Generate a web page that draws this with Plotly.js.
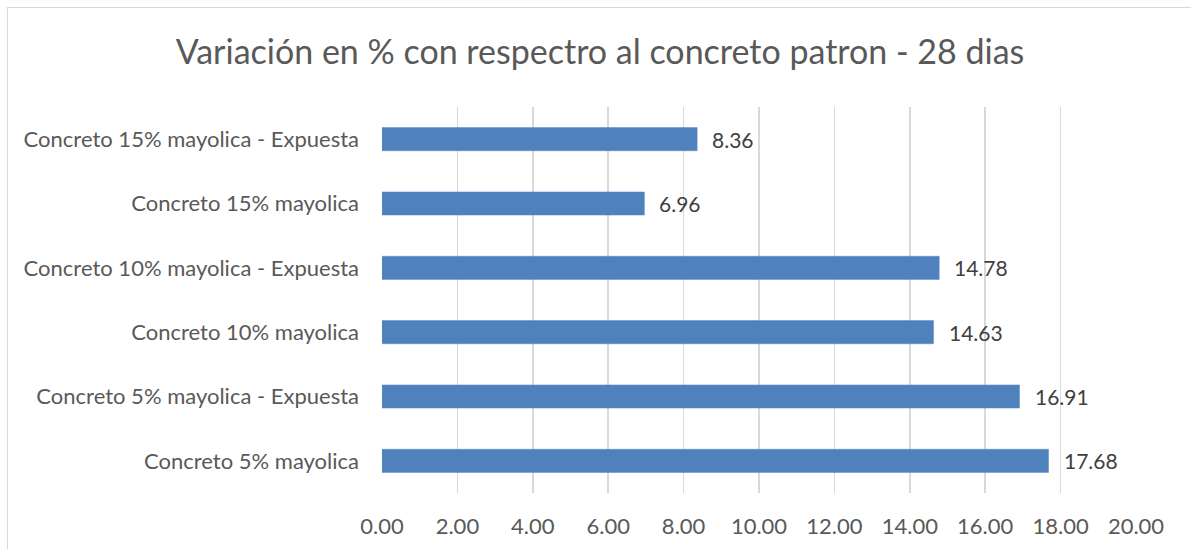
<!DOCTYPE html>
<html>
<head>
<meta charset="utf-8">
<script src="https://cdn.plot.ly/plotly-3.0.1.min.js"></script>
<style>
html,body{margin:0;padding:0;background:#fff;}
#chart{width:1191px;height:549px;position:absolute;left:0;top:0;}
#frame{position:absolute;left:7px;top:7px;width:1190px;height:548px;border:1px solid #d9d9d9;pointer-events:none;}
</style>
</head>
<body>
<div id="chart"></div>
<div id="frame"></div>
<script>
const categories = [
  "Concreto 5% mayolica",
  "Concreto 5% mayolica - Expuesta",
  "Concreto 10% mayolica",
  "Concreto 10% mayolica - Expuesta",
  "Concreto 15% mayolica",
  "Concreto 15% mayolica - Expuesta"
];
const values = [17.68, 16.91, 14.63, 14.78, 6.96, 8.36];
const xTicks = [0, 2, 4, 6, 8, 10, 12, 14, 16, 18, 20];
const xTickLabels = ["0.00","2.00","4.00","6.00","8.00","10.00","12.00","14.00","16.00","18.00","20.00"];

const FONT = "Lato, Carlito, sans-serif";

const trace = {
  type: "bar",
  orientation: "h",
  y: categories,
  x: values,
  marker: {color: "#4F81BD", line: {color: "#5b8ac4", width: 0.5}},
  hoverinfo: "x+y"
};

const annotations = values.map((v, i) => ({
  x: v, y: categories[i], xref: "x", yref: "y",
  text: v.toFixed(2), showarrow: false,
  xanchor: "left", yanchor: "middle", xshift: 13,
  font: {family: FONT, size: 21, color: "#404040"}
}));

const layout = {
  width: 1191, height: 549,
  margin: {l: 382, r: 55, t: 107, b: 56},
  paper_bgcolor: "rgba(0,0,0,0)",
  plot_bgcolor: "#fff",
  bargap: 0.64,
  showlegend: false,
  title: {
    text: "Variación en % con respectro al concreto patron - 28 dias",
    font: {family: FONT, size: 34, color: "#595959"},
    x: 600/1191, xref: "container", xanchor: "center",
    y: 1 - 52/549, yref: "container", yanchor: "middle"
  },
  xaxis: {
    range: [0, 20],
    tickvals: xTicks, ticktext: xTickLabels,
    showgrid: true, gridcolor: "#d9d9d9", gridwidth: 1.5,
    zeroline: false, showline: false,
    ticks: "", ticklabelstandoff: 18,
    tickfont: {family: FONT, size: 22, color: "#595959"},
    fixedrange: true
  },
  yaxis: {
    type: "category",
    categoryorder: "array", categoryarray: categories,
    showgrid: false, zeroline: false, showline: false,
    ticks: "", ticklabelstandoff: 22,
    tickfont: {family: FONT, size: 22, color: "#595959"},
    fixedrange: true
  },
  annotations: annotations
};

Plotly.newPlot("chart", [trace], layout, {displayModeBar: false, staticPlot: true});
</script>
</body>
</html>
